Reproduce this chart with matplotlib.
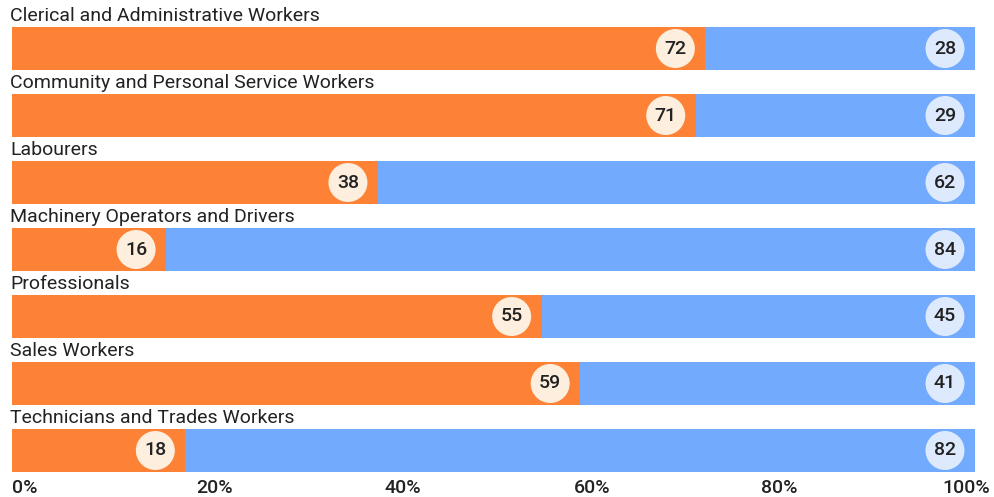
import matplotlib
matplotlib.use("Agg")
import matplotlib.pyplot as plt
from matplotlib.patches import Ellipse
import matplotlib.transforms as mtransforms

categories = [
    "Clerical and Administrative Workers",
    "Community and Personal Service Workers",
    "Labourers",
    "Machinery Operators and Drivers",
    "Professionals",
    "Sales Workers",
    "Technicians and Trades Workers",
]
female = [72, 71, 38, 16, 55, 59, 18]
male = [28, 29, 62, 84, 45, 41, 82]
tick_values = [0, 20, 40, 60, 80, 100]
tick_labels = ["0%", "20%", "40%", "60%", "80%", "100%"]

ORANGE = "#fe8235"
BLUE = "#72aafe"
ORANGE_L = "#fdeedd"
BLUE_L = "#dde9fd"

plt.rcParams['font.family'] = ['Roboto', 'DejaVu Sans']

W, H = 995, 497
fig = plt.figure(figsize=(W / 100, H / 100), dpi=100)
half = 0.321
ax_left, ax_right = 12, 975
ax_top, ax_bot = 27, 472
ax = fig.add_axes([ax_left / W, (H - ax_bot) / H, (ax_right - ax_left) / W, (ax_bot - ax_top) / H])
ax.set_xlim(0, 100)
ax.set_ylim(len(categories) - 1 + half, -half)

ys = list(range(len(categories)))
ax.barh(ys, female, height=2 * half, color=ORANGE, linewidth=0)
ax.barh(ys, male, left=female, height=2 * half, color=BLUE, linewidth=0)

px_per_unit = (ax_right - ax_left) / 100.0
px_per_y = (ax_bot - ax_top) / (len(categories) - 1 + 2 * half)
r_px = 19.5
for y, f, m, name in zip(ys, female, male, categories):
    for end, val, col in ((f, f, ORANGE_L), (f + m, m, BLUE_L)):
        cx = end - 30 / px_per_unit
        e = Ellipse((cx, y), width=2 * r_px / px_per_unit, height=2 * r_px / px_per_y,
                    facecolor=col, edgecolor='none', zorder=3)
        ax.add_patch(e)
        ax.text(cx, y, str(val), ha='center', va='center', fontsize=14,
                fontweight='medium', color='#222222', zorder=4)
    ax.text(-0.2, y - half, name, ha='left', va='bottom', fontsize=14,
            color='#222222', transform=ax.transData + mtransforms.ScaledTranslation(0, 2 / 100, fig.dpi_scale_trans),
            clip_on=False)

ax.set_xticks(tick_values)
ax.set_xticklabels(tick_labels, fontsize=14, fontweight='medium', color='#222222')
ax.tick_params(axis='x', length=0, pad=5)
ax.set_yticks([])
for s in ax.spines.values():
    s.set_visible(False)
labels = ax.get_xticklabels()
labels[0].set_horizontalalignment('left')
labels[-1].set_horizontalalignment('right')
labels[-1].set_transform(labels[-1].get_transform() + mtransforms.ScaledTranslation(15 / 100, 0, fig.dpi_scale_trans))
for lab, dx in zip(labels[1:-1], [10, 6, 2, -3]):
    lab.set_transform(lab.get_transform() + mtransforms.ScaledTranslation(dx / 100, 0, fig.dpi_scale_trans))

fig.savefig("out.png", dpi=100)
